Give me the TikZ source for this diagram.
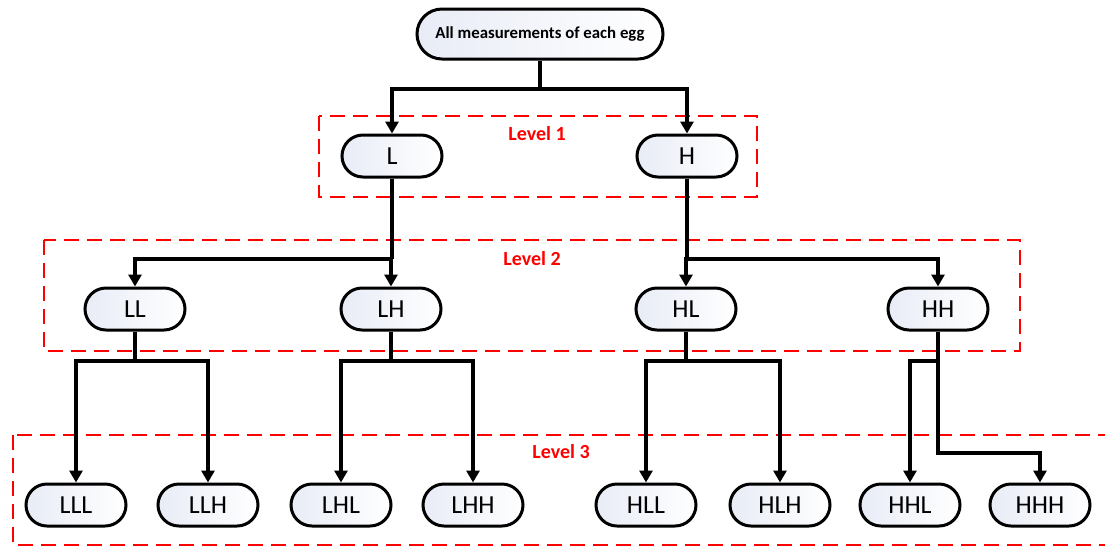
\documentclass[tikz,border=0pt]{standalone}
\usepackage{fontspec}
\setmainfont{Carlito}
\usetikzlibrary{arrows.meta, positioning}

\definecolor{nodefill}{RGB}{232,236,246}
\tikzset{
  leaf/.style = {draw, line width=1.5pt, rounded corners=10.5pt,
                 minimum width=50pt, minimum height=21pt, inner sep=0pt,
                 left color=nodefill, right color=white,
                 font=\fontsize{13}{15}\selectfont},
  conn/.style = {line width=1.6pt},
  arr/.style = {conn, -{Triangle[length=6pt, width=6.5pt]}},
  levelbox/.style = {draw=red, line width=1pt, dash pattern=on 7.5pt off 4pt},
  levellabel/.style = {text=red, font=\fontsize{10}{12}\selectfont\bfseries}
}

\begin{document}
\begin{tikzpicture}[x=0.5pt, y=-0.5pt]
\useasboundingbox (0,0) rectangle (1105,548);

%level frames
        \draw[levelbox] (319,116) rectangle (757,197);
        \draw[levelbox] (44,240) rectangle (1020,351);
        \draw[levelbox] (13,435) rectangle (1120,545);
        \node[levellabel] (lab1) at (537,134) {Level 1};
        \node[levellabel] (lab2) at (532,259) {Level 2};
        \node[levellabel] (lab3) at (561,452) {Level 3};

%nodes
        \node[leaf, minimum width=123pt, minimum height=25pt, rounded corners=12.5pt,
              font=\fontsize{8.4}{10}\selectfont\bfseries] (root) at (540,34) {All measurements of each egg};

        \node[leaf] (L) at (392,156) {L};
        \node[leaf] (H) at (687,156) {H};

        \node[leaf] (LL) at (135,309) {LL};
        \node[leaf] (LH) at (391,309) {LH};
        \node[leaf] (HL) at (686,309) {HL};
        \node[leaf] (HH) at (938,309) {HH};

        \node[leaf] (LLL) at (76,505) {LLL};
        \node[leaf] (LLH) at (208,505) {LLH};
        \node[leaf] (LHL) at (341,505) {LHL};
        \node[leaf] (LHH) at (473,505) {LHH};
        \node[leaf] (HLL) at (646,505) {HLL};
        \node[leaf] (HLH) at (780,505) {HLH};
        \node[leaf] (HHL) at (910,505) {HHL};
        \node[leaf] (HHH) at (1040,505) {HHH};

%junctions
        \coordinate (j0) at (540,89);
        \coordinate (jL) at (392,259);
        \coordinate (jH) at (687,259);
        \coordinate (jLL) at (135,361);
        \coordinate (jLH) at (391,361);
        \coordinate (jHL) at (686,361);
        \coordinate (jHH) at (938,361);
        \coordinate (jHHH) at (938,453);

%connectors
        \draw[conn] (root.south) -- (j0);
        \draw[arr] (j0) -| (L.north);
        \draw[arr] (j0) -| (H.north);

        \draw[conn] (L.south) -- (jL);
        \draw[arr] (jL) -| (LL.north);
        \draw[arr] (jL) -| (LH.north);
        \draw[conn] (H.south) -- (jH);
        \draw[arr] (jH) -| (HL.north);
        \draw[arr] (jH) -| (HH.north);

        \draw[conn] (LL.south) -- (jLL);
        \draw[arr] (jLL) -| (LLL.north);
        \draw[arr] (jLL) -| (LLH.north);
        \draw[conn] (LH.south) -- (jLH);
        \draw[arr] (jLH) -| (LHL.north);
        \draw[arr] (jLH) -| (LHH.north);
        \draw[conn] (HL.south) -- (jHL);
        \draw[arr] (jHL) -| (HLL.north);
        \draw[arr] (jHL) -| (HLH.north);
        \draw[conn] (HH.south) -- (jHH);
        \draw[arr] (jHH) -| (HHL.north);
        \draw[arr] (jHH) -- (jHHH) -| (HHH.north);
\end{tikzpicture}
\end{document}
